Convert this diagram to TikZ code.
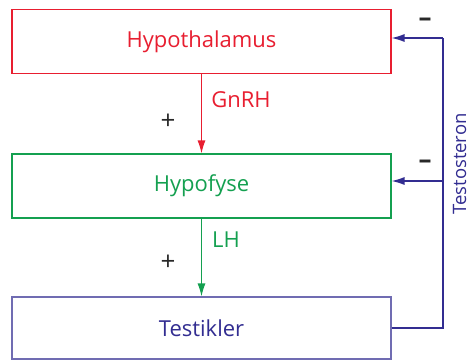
\documentclass[tikz,border=0pt]{standalone}
\usepackage{fontspec}
\setmainfont{Open Sans}
\usetikzlibrary{arrows.meta}
\definecolor{hypored}{RGB}{232,30,48}
\definecolor{hypogreen}{RGB}{20,160,80}
\definecolor{testblue}{RGB}{50,45,145}
\definecolor{signgray}{RGB}{40,40,40}

\begin{document}
\begin{tikzpicture}[x=1pt,y=1pt,
							boxnode/.style={draw, line width=1.1pt, fill=white, minimum width=379pt, minimum height=64pt, font=\fontsize{22}{24}\selectfont},
							signnode/.style={text=signgray, font=\fontsize{26}{28}\selectfont},
							labelnode/.style={font=\fontsize{22}{24}\selectfont},
							arr/.style={line width=1.2pt, -{Latex[length=13pt,width=8pt]}},
							]
							\useasboundingbox (0,0) rectangle (470,360);
							%Nodes
							\node[boxnode, draw=hypored, text=hypored]      (hypo) 	at 	(201.5,318.5)   {Hypothalamus};
							\node[boxnode, draw=hypogreen, text=hypogreen]  (hypof) 	at 	(201.5,174)     {Hypofyse};
							\node[boxnode, draw=testblue!70, text=testblue, minimum height=62pt] (test) at (201.5,32) {Testikler};
							\node[labelnode, text=hypored]    (gnrh) 	at 	(241,260)    {GnRH};
							\node[labelnode, text=hypogreen]  (lh) 	at 	(226,120)    {LH};
							\node[signnode]      (plus1) 	at 	(168,238)    {+};
							\node[signnode]      (plus2) 	at 	(168,97)     {+};
							\node[signnode]      (minus1) 	at 	(425,338)    {\textbf{--}};
							\node[signnode]      (minus2) 	at 	(425,196)    {\textbf{--}};
							\node[labelnode, text=testblue, rotate=90, font=\fontsize{18.5}{20}\selectfont] (testo) at (459.5,196) {Testosteron};
							\coordinate          (fbbot)  at  (443,32);
							\coordinate          (fbtop)  at  (443,322);
							\coordinate          (fbmid)  at  (443,179);

							\draw[arr, draw=hypored] (hypo) -- (hypof);
							\draw[arr, draw=hypogreen] (hypof) -- (test);
							\draw[line width=1.2pt, draw=testblue] (test.east) -- (fbbot) -- (fbtop);
							\draw[arr, draw=testblue] (fbtop) -- (hypo.east |- fbtop);
							\draw[arr, draw=testblue] (fbmid) -- (hypof.east |- fbmid);
						\end{tikzpicture}
\end{document}
